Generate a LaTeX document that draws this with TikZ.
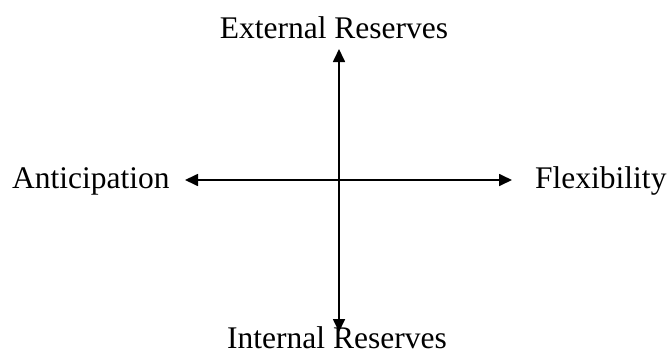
\documentclass[tikz,border=0pt]{standalone}
\usepackage{fontspec}
\setmainfont{Liberation Serif}
\usetikzlibrary{arrows.meta}
\begin{document}
\begin{tikzpicture}[x=1pt,y=-1pt,
  lbl/.style={inner sep=0pt,anchor=base,font=\fontsize{31.5}{36}\selectfont},
  axis/.style={line width=1.7pt,{Triangle[length=13pt,width=12pt]}-{Triangle[length=13pt,width=12pt]}}]
\useasboundingbox (0,0) rectangle (668,356);
\node[lbl] (ext) at (334,38) {External Reserves};
\node[lbl] (int) at (337,348) {Internal Reserves};
\node[lbl,anchor=base west] (ant) at (12,188) {Anticipation};
\node[lbl,anchor=base west] (flex) at (535,188) {Flexibility};
\coordinate (top) at (339,49);
\coordinate (bot) at (339,332);
\coordinate (lft) at (185,180);
\coordinate (rgt) at (512,180);
\draw[axis] (bot) -- (top);
\draw[axis] (lft) -- (rgt);
\end{tikzpicture}
\end{document}
